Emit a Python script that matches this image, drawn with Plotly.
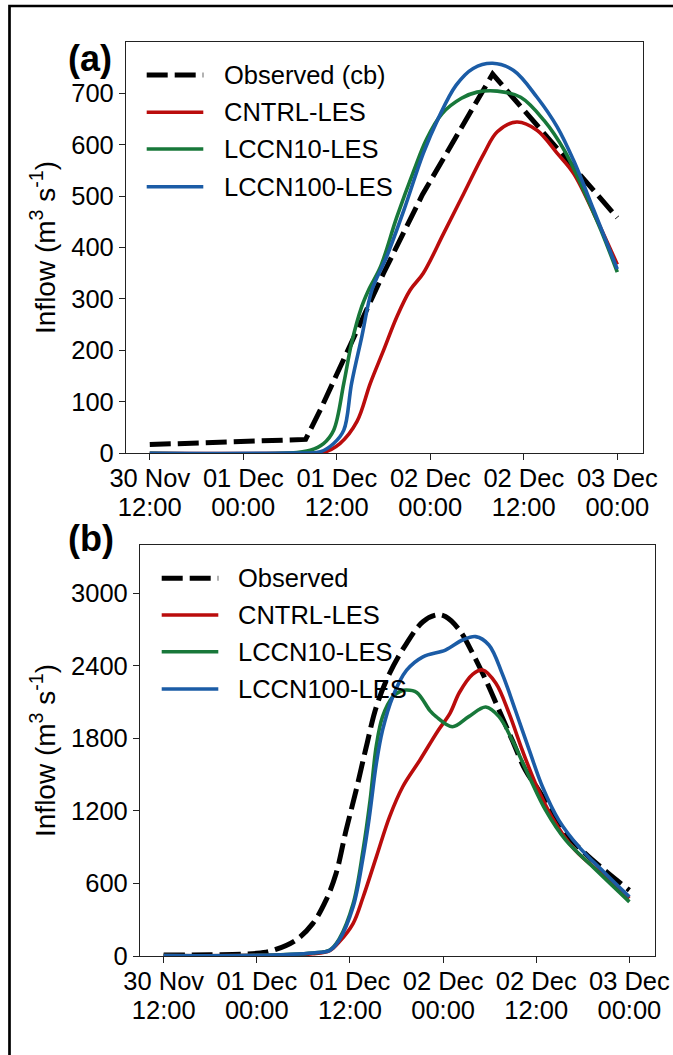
import pandas as pd
import plotly.graph_objects as go

W, H = 673, 1055
BASE = pd.Timestamp("2019-11-30 12:00")

# ---------------- data (hours since 30 Nov 12:00) ----------------
tick_hours = [0, 12, 24, 36, 48, 60]
tick_dates = ["30 Nov", "01 Dec", "01 Dec", "02 Dec", "02 Dec", "03 Dec"]
tick_times = ["12:00", "00:00", "12:00", "00:00", "12:00", "00:00"]

# panel (a)
a_obs_h = [0, 20, 22, 26, 30, 35, 44, 60]
a_obs = [17, 27, 88, 220, 350, 503, 737, 458]

a_cntrl_h = [0, 20, 22.3, 24.4, 26.6, 28.3, 30, 31.7, 33.4, 35.1, 37.7, 40.3,
             42.9, 44.6, 47.1, 49.7, 52.3, 54.4, 57.4, 60]
a_cntrl = [0, 0.3, 2, 19, 62, 136, 200, 265, 317, 350, 427, 505,
           583, 625, 644, 628, 583, 544, 453, 367]

a_l10_h = [0, 18, 20.6, 22.3, 23.6, 24.9, 25.9, 27.2, 28.1, 29.6, 31.7, 33.9,
           35.5, 37.5, 40, 42, 44.6, 47.6, 50.6, 53.2, 55.3, 57.9, 60]
a_l10 = [0, 0.5, 6, 19, 45, 136, 214, 285, 318, 362, 459, 550,
         610, 660, 690, 702, 704, 692, 647, 589, 524, 434, 352]

a_l100_h = [0, 18, 21.9, 23.6, 24.9, 25.9, 27.2, 28.5, 30.4, 32.6, 35.1, 37,
            39.3, 41.5, 44, 46.7, 49.7, 52.3, 54.4, 57, 60]
a_l100 = [0, 0.5, 3, 19, 45, 136, 226, 317, 382, 472, 583, 650,
          715, 748, 758, 744, 692, 634, 569, 472, 358]

a_yticks = [0, 100, 200, 300, 400, 500, 600, 700]

# panel (b)
b_obs_h = [0, 6, 12, 14, 17, 19.2, 20.9, 22.2, 23.5, 24.8, 26.1, 27.4, 29.1,
           31.3, 33.4, 35.2, 36.3, 38.1, 39.8, 41.5, 43.2, 44.9, 46.6, 48.3,
           51.8, 54.3, 57.3, 60]
b_obs = [8, 10, 22, 45, 130, 268, 460, 680, 1040, 1372, 1730, 2062, 2337,
         2587, 2765, 2822, 2808, 2697, 2505, 2283, 2035, 1786, 1538, 1373,
         1014, 849, 683, 544]

b_cntrl_h = [0, 12, 19.2, 21.4, 22.6, 24.4, 25.7, 27.4, 29.1, 30.8, 33, 35.3,
             36.9, 38.1, 39.8, 41.1, 42.8, 44.5, 46.2, 47.9, 50, 53, 56.9, 60]
b_cntrl = [3, 5, 18, 45, 115, 268, 488, 820, 1151, 1400, 1620, 1860,
           2010, 2180, 2330, 2366, 2256, 2007, 1703, 1428, 1151, 876, 655, 476]

b_l10_h = [0, 12, 19.2, 21.4, 22.6, 24.4, 25.7, 26.6, 27.4, 28.2, 29.5, 30.5,
           31.3, 32.6, 34.3, 35.1, 37.2, 39.3, 41.5, 43.2, 44.9, 47.1, 49.2,
           51.8, 55.3, 60]
b_l10 = [3, 5, 25, 50, 140, 430, 880, 1290, 1740, 1980, 2143, 2190,
         2200, 2180, 2030, 1980, 1896, 1980, 2060, 1980, 1786, 1482, 1207,
         958, 737, 448]

b_l100_h = [0, 12, 19.2, 21.4, 22.6, 24.4, 25.7, 26.5, 27.4, 28.2, 29.5, 31.3,
            33.4, 36.3, 38.5, 40.2, 41.9, 43.6, 45.3, 47.1, 48.8, 50.9, 53.5,
            56.9, 60]
b_l100 = [3, 5, 25, 47, 130, 405, 820, 1151, 1592, 1868, 2143, 2364,
          2475, 2531, 2614, 2642, 2573, 2338, 2035, 1703, 1400, 1124, 903,
          683, 490]

b_yticks = [0, 600, 1200, 1800, 2400, 3000]

names_a = ["Observed (cb)", "CNTRL-LES", "LCCN10-LES", "LCCN100-LES"]
names_b = ["Observed", "CNTRL-LES", "LCCN10-LES", "LCCN100-LES"]

# ---------------- styles ----------------
FONT = "Liberation Sans, Arial, Helvetica, sans-serif"
C_OBS, C_RED, C_GRN, C_BLU = "#000000", "#BA0C0C", "#18783A", "#1B5CA6"
colors = [C_OBS, C_RED, C_GRN, C_BLU]
LW = 3.6
OBS_LW = 5
DASH = "21px,7px"
FS = 25.5
ROW_GAP = 29      # px between the two rows of x tick labels
STANDOFF = -4


def t(hours):
    return [BASE + pd.Timedelta(hours=h) for h in hours]


def px(x):
    return x / W


def py(y):
    return 1 - y / H


fig = go.Figure()

series_a = [(a_obs_h, a_obs), (a_cntrl_h, a_cntrl), (a_l10_h, a_l10), (a_l100_h, a_l100)]
series_b = [(b_obs_h, b_obs), (b_cntrl_h, b_cntrl), (b_l10_h, b_l10), (b_l100_h, b_l100)]

for i, (h, v) in enumerate(series_a):
    is_obs = i == 0
    fig.add_trace(go.Scatter(
        x=t(h), y=v, mode="lines", name=names_a[i], showlegend=False,
        line=dict(color=colors[i], width=OBS_LW if is_obs else LW,
                  dash=DASH if is_obs else "solid",
                  shape="linear" if is_obs else "spline", smoothing=1.0),
        xaxis="x", yaxis="y"))

for i, (h, v) in enumerate(series_b):
    is_obs = i == 0
    fig.add_trace(go.Scatter(
        x=t(h), y=v, mode="lines", name=names_b[i], showlegend=False,
        line=dict(color=colors[i], width=OBS_LW if is_obs else LW,
                  dash=DASH if is_obs else "solid",
                  shape="spline", smoothing=1.0),
        xaxis="x2", yaxis="y2"))

# empty carrier traces so the overlaid "time row" axes get drawn
for xa, ya in (("x3", "y"), ("x4", "y2")):
    fig.add_trace(go.Scatter(x=t(tick_hours), y=[None] * len(tick_hours),
                             mode="lines", showlegend=False, hoverinfo="skip",
                             xaxis=xa, yaxis=ya))

# panel geometry (pixels)
A = dict(l=126, r=643, t=41.7, b=453.3)
B = dict(l=140, r=655, t=545, b=956)

xrange = t([-3.05, 63.3])

tickfont = dict(family=FONT, size=FS, color="black")
axis_common = dict(
    showline=True, mirror=True, linecolor="#222", linewidth=1.2,
    ticks="outside", ticklen=6, tickwidth=1.2, tickcolor="#222",
    showgrid=False, zeroline=False, automargin=False, tickfont=tickfont,
)
# second row of x tick labels (times), drawn by an overlaid axis
time_axis = dict(
    showline=False, ticks="outside", ticklen=6, tickwidth=1,
    tickcolor="rgba(0,0,0,0)", showgrid=False, zeroline=False,
    automargin=False, tickfont=tickfont, range=xrange, anchor="free",
    side="bottom", tickmode="array", tickvals=t(tick_hours),
    ticktext=tick_times, ticklabelstandoff=STANDOFF,
)

fig.update_layout(
    width=W, height=H, margin=dict(l=0, r=0, t=0, b=0),
    paper_bgcolor="white", plot_bgcolor="white", showlegend=False,
    font=dict(family=FONT, color="black"),
    xaxis=dict(domain=[px(A["l"]), px(A["r"])], anchor="y", range=xrange,
               tickmode="array", tickvals=t(tick_hours), ticktext=tick_dates,
               ticklabelstandoff=STANDOFF, **axis_common),
    yaxis=dict(domain=[py(A["b"]), py(A["t"])], anchor="x", range=[0, 800],
               tickmode="array", tickvals=a_yticks, **axis_common),
    xaxis2=dict(domain=[px(B["l"]), px(B["r"])], anchor="y2", range=xrange,
                tickmode="array", tickvals=t(tick_hours), ticktext=tick_dates,
                ticklabelstandoff=STANDOFF, **axis_common),
    yaxis2=dict(domain=[py(B["b"]), py(B["t"])], anchor="x2", range=[0, 3400],
                tickmode="array", tickvals=b_yticks, **axis_common),
    xaxis3=dict(overlaying="x", domain=[px(A["l"]), px(A["r"])],
                position=py(A["b"] + ROW_GAP), **time_axis),
    xaxis4=dict(overlaying="x2", domain=[px(B["l"]), px(B["r"])],
                position=py(B["b"] + ROW_GAP), **time_axis),
)

shapes = []
annotations = []

# outer border of the figure
shapes.append(dict(type="rect", xref="paper", yref="paper",
                   x0=px(9.5), x1=1.2, y0=-0.2, y1=py(6),
                   line=dict(color="black", width=2.7)))

# manual legends
for P, names, line_x0, text_x, rows in [
    (A, names_a, 146.7, 221.7, [75, 112.3, 149, 186.7]),
    (B, names_b, 161.7, 236, [578.3, 615, 651.7, 689]),
]:
    for i, name in enumerate(names):
        is_obs = i == 0
        shapes.append(dict(type="line", xref="paper", yref="paper",
                           x0=px(line_x0), x1=px(line_x0 + 56.6),
                           y0=py(rows[i]), y1=py(rows[i]),
                           line=dict(color=colors[i], width=OBS_LW if is_obs else LW,
                                     dash=DASH if is_obs else "solid")))
        annotations.append(dict(xref="paper", yref="paper", x=px(text_x), y=py(rows[i]),
                                text=name, showarrow=False, xanchor="left",
                                yanchor="middle", font=tickfont))

# panel labels
annotations.append(dict(xref="paper", yref="paper", x=px(90), y=py(58.5),
                        text="<b>(a)</b>", showarrow=False, xanchor="center",
                        yanchor="middle", font=dict(family=FONT, size=36, color="black")))
annotations.append(dict(xref="paper", yref="paper", x=px(91), y=py(538),
                        text="<b>(b)</b>", showarrow=False, xanchor="center",
                        yanchor="middle", font=dict(family=FONT, size=36, color="black")))

# y-axis titles
for P in (A, B):
    annotations.append(dict(xref="paper", yref="paper", x=px(42.5),
                            y=py((P["t"] + P["b"]) / 2),
                            text="Inflow (m<sup>3</sup> s<sup>-1</sup>)",
                            textangle=-90, showarrow=False,
                            xanchor="center", yanchor="middle",
                            font=dict(family=FONT, size=28, color="black")))

fig.update_layout(shapes=shapes, annotations=annotations)

fig.write_html("out.html", config={"displayModeBar": False})
